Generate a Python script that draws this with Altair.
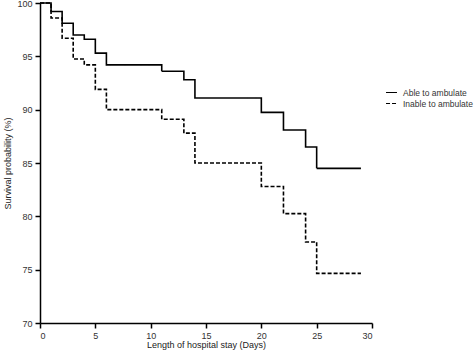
import altair as alt
import pandas as pd

able_days = [0, 1, 2, 3, 4, 5, 6, 11, 13, 14, 20, 22, 24, 25, 29]
able_surv = [100, 99.2, 98.1, 97.0, 96.6, 95.3, 94.2, 93.6, 92.8, 91.1, 89.75, 88.1, 86.5, 84.5, 84.5]
inable_days = [0, 1, 2, 3, 4, 5, 6, 11, 13, 14, 20, 22, 24, 25, 29]
inable_surv = [100, 98.6, 96.7, 94.75, 94.2, 91.9, 90.0, 89.1, 87.8, 85.0, 82.8, 80.25, 77.6, 74.65, 74.65]
groups = ["Able to ambulate", "Inable to ambulate"]

rows = []
for d, s in zip(able_days, able_surv):
    rows.append({"day": d, "surv": s, "group": groups[0]})
for d, s in zip(inable_days, inable_surv):
    rows.append({"day": d, "surv": s, "group": groups[1]})
df = pd.DataFrame(rows)

font = "Liberation Sans"

chart = alt.Chart(df).mark_line(interpolate="step-after", color="black", strokeWidth=1.6).encode(
    x=alt.X("day:Q", scale=alt.Scale(domain=[0, 30], nice=False, zero=False),
            axis=alt.Axis(title="Length of hospital stay (Days)", values=[0, 5, 10, 15, 20, 25, 30],
                          grid=False, domainColor="black", domainWidth=1.5, tickColor="black",
                          tickWidth=1.5, tickSize=5, labelFont=font, labelFontSize=9,
                          labelColor="#333333", titleFont=font, titleFontSize=9,
                          titleFontWeight="normal", titleColor="#222222", labelPadding=3, titlePadding=0)),
    y=alt.Y("surv:Q", scale=alt.Scale(domain=[70, 100], nice=False, zero=False),
            axis=alt.Axis(title="Survival probability (%)", values=[70, 75, 80, 85, 90, 95, 100],
                          grid=False, domainColor="black", domainWidth=1.5, tickColor="black",
                          tickWidth=1.5, tickSize=5, labelFont=font, labelFontSize=9,
                          labelColor="#333333", titleFont=font, titleFontSize=9,
                          titleFontWeight="normal", titleColor="#222222", labelPadding=3, titlePadding=4)),
    strokeDash=alt.StrokeDash("group:N", scale=alt.Scale(domain=groups, range=[[1, 0], [4, 2]]),
                              legend=alt.Legend(title=None, orient="none", legendX=345, legendY=83,
                                                symbolType="stroke", symbolStrokeColor="black",
                                                symbolStrokeWidth=1.2, symbolSize=120,
                                                labelFont=font, labelFontSize=8.5, labelColor="#333333",
                                                rowPadding=-2, labelOffset=5, padding=0)),
).properties(
    width=332, height=320,
    autosize=alt.AutoSizeParams(type="none"),
    padding={"left": 40, "top": 3, "right": 102, "bottom": 31},
).configure_view(stroke=None)

chart.save("out.html", embed_options={"renderer": "svg", "actions": False})
